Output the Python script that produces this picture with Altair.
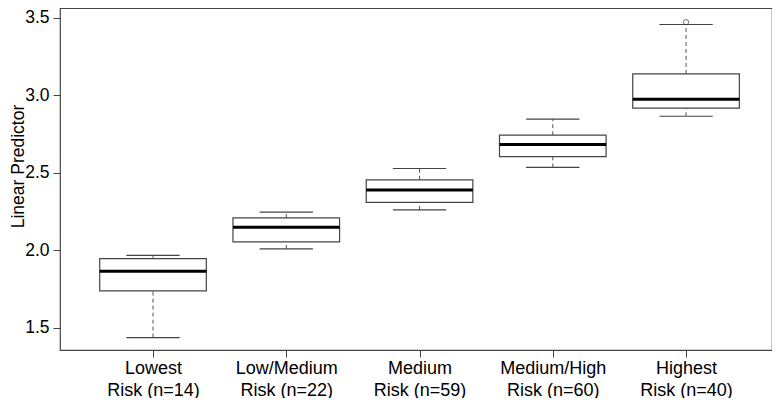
import altair as alt
import pandas as pd

# ---- data ----
group_top = ["Lowest", "Low/Medium", "Medium", "Medium/High", "Highest"]
group_n = [14, 22, 59, 60, 40]
positions = [1, 2, 3, 4, 5]
whisker_low = [1.438, 2.010, 2.262, 2.536, 2.866]
q1 = [1.739, 2.056, 2.310, 2.605, 2.918]
median = [1.866, 2.150, 2.390, 2.684, 2.976]
q3 = [1.947, 2.210, 2.456, 2.744, 3.139]
whisker_high = [1.969, 2.248, 2.529, 2.847, 3.458]
outlier_pos = [5]
outlier_val = [3.473]
y_ticks = [1.5, 2.0, 2.5, 3.0, 3.5]

df = pd.DataFrame({
    "pos": positions, "lo": whisker_low, "q1": q1, "med": median,
    "q3": q3, "hi": whisker_high,
})
out_df = pd.DataFrame({"pos": outlier_pos, "val": outlier_val})

labels = [f"{t}\\nRisk (n={n})" for t, n in zip(group_top, group_n)]
label_arr = "[" + ",".join(f"'{l}'" for l in labels) + "]"
label_expr = f"split({label_arr}[datum.value - 1], '\\n')"

FONT = "Liberation Sans"
xscale = alt.Scale(domain=[0.302, 5.645], nice=False, zero=False)
yscale = alt.Scale(domain=[1.358, 3.5645], nice=False, zero=False)

xaxis = alt.Axis(values=positions, labelExpr=label_expr, title=None, grid=False,
                 domain=False, tickSize=7, tickColor="#444", labelFontSize=18,
                 labelColor="black", labelPadding=2, labelLineHeight=22,
                 labelFont=FONT, labelBaseline="top")
yaxis = alt.Axis(values=y_ticks, format=".1f", title="Linear Predictor",
                 grid=False, domain=False, tickSize=7, tickColor="#444",
                 labelFontSize=17.5, labelColor="black", labelPadding=4,
                 labelFont=FONT, titleFont=FONT,
                 titleFontSize=17.5, titleFontWeight="normal", titleColor="black",
                 titleX=-37, titleY=158, titleBaseline="alphabetic", titleAngle=270)

base = alt.Chart(df).transform_calculate(
    xl="datum.pos - 0.4", xr="datum.pos + 0.4",
    cl="datum.pos - 0.2", cr="datum.pos + 0.2",
)

whisk_up = base.mark_rule(color="#555", strokeDash=[4, 3], strokeWidth=1).encode(
    x=alt.X("pos:Q", scale=xscale, axis=xaxis),
    y=alt.Y("q3:Q", scale=yscale, axis=yaxis),
    y2="hi:Q",
)
whisk_dn = base.mark_rule(color="#555", strokeDash=[4, 3], strokeWidth=1).encode(
    x="pos:Q", y="lo:Q", y2="q1:Q",
)
cap_hi = base.mark_rule(color="#444", strokeWidth=1.2).encode(
    x="cl:Q", x2="cr:Q", y="hi:Q",
)
cap_lo = base.mark_rule(color="#444", strokeWidth=1.2).encode(
    x="cl:Q", x2="cr:Q", y="lo:Q",
)
box = base.mark_rect(fill="white", stroke="#444", strokeWidth=1.2).encode(
    x="xl:Q", x2="xr:Q", y="q1:Q", y2="q3:Q",
)
med = base.mark_rule(color="black", strokeWidth=3).encode(
    x="xl:Q", x2="xr:Q", y="med:Q",
)
outl = alt.Chart(out_df).mark_point(shape="circle", filled=False, color="#333",
                                    size=28, strokeWidth=1).encode(
    x="pos:Q", y="val:Q",
)

chart = alt.layer(whisk_up, whisk_dn, cap_hi, cap_lo, box, med, outl).properties(
    width=712, height=342,
    autosize=alt.AutoSizeParams(type="none"),
    padding={"left": 52, "top": 0, "right": 0, "bottom": 48},
    background="white",
).configure_view(stroke="#444", strokeWidth=1.2)

chart.save("out.html", embed_options={"renderer": "svg", "actions": False})
